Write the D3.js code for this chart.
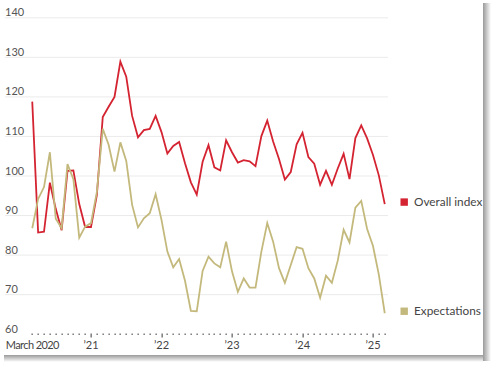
<!DOCTYPE html>
<html><head><meta charset="utf-8">
<script src="https://cdn.jsdelivr.net/npm/d3@7"></script>
<style>
html,body{margin:0;padding:0;background:#fff;}
svg{display:block;}
text{font-family:Lato,"Open Sans",sans-serif;}
</style></head>
<body>
<svg id="c" width="492" height="366"></svg>
<script>
// Months: March 2020 .. March 2025
const overall = [
118.8,85.7,85.9,98.3,91.7,86.3,101.3,101.4,92.9,87.1,
87.1,95.2,114.9,117.5,120.0,128.9,125.1,115.2,109.8,111.6,111.9,115.2,
111.1,105.7,107.6,108.6,103.2,98.4,95.3,103.6,107.8,102.2,101.4,109.0,
106.0,103.4,104.0,103.7,102.5,110.1,114.0,108.7,104.3,99.1,101.0,108.0,
110.9,104.8,103.1,97.8,101.3,97.8,101.9,105.6,99.2,109.6,112.8,109.5,
105.3,100.1,92.9];
const expectations = [
86.8,94.2,97.2,106.0,89.2,86.8,103.0,99.2,84.4,87.2,
88.1,96.0,111.9,107.9,101.1,108.5,103.8,92.7,87.0,89.3,90.6,95.4,
88.9,80.9,76.9,79.0,73.5,65.9,65.8,76.0,79.6,77.9,76.9,83.4,
75.9,70.7,74.1,71.8,71.8,80.9,88.1,83.4,76.7,73.0,77.5,82.0,
81.6,76.7,74.1,69.2,74.8,73.0,78.6,86.4,83.2,92.0,93.7,86.6,
82.3,75.0,65.3];
const yTicks = [60,70,80,90,100,110,120,130,140];
const xTickLabels = ["March 2020","\u201921","\u201922","\u201923","\u201924","\u201925"];
const xTickMonths = [0,10,22,34,46,58];
const seriesNames = ["Overall index","Expectations"];
const colors = ["#d42331","#c4b97c"];

const svg = d3.select("#c");

// frame shadow
const defs = svg.append("defs");
const gR = defs.append("linearGradient").attr("id","gr").attr("x1","0").attr("x2","1").attr("y1","0").attr("y2","0");
gR.append("stop").attr("offset","0").attr("stop-color","#9a9a9a");
gR.append("stop").attr("offset","1").attr("stop-color","#ffffff");
const gB = defs.append("linearGradient").attr("id","gb").attr("x1","0").attr("x2","0").attr("y1","0").attr("y2","1");
gB.append("stop").attr("offset","0").attr("stop-color","#9a9a9a");
gB.append("stop").attr("offset","1").attr("stop-color","#ffffff");
svg.append("rect").attr("x",483).attr("y",3).attr("width",8).attr("height",358).attr("fill","url(#gr)");
svg.append("rect").attr("x",4).attr("y",355).attr("width",479).attr("height",7).attr("fill","url(#gb)");

const x = d3.scaleLinear().domain([0,60]).range([32.25,384.75]);
const y = d3.scaleLinear().domain([60,140]).range([334.2,17.8]);

// gridlines
const grid = svg.append("g");
yTicks.filter(t=>t>60).forEach(t=>{
  grid.append("line").attr("x1",5).attr("x2",388).attr("y1",y(t)).attr("y2",y(t))
    .attr("stroke","#ebebeb").attr("stroke-width",1);
});
// y labels
yTicks.forEach(t=>{
  svg.append("text").attr("x",5).attr("y",y(t)-1.5).text(t)
    .attr("font-size",11).attr("fill","#555");
});

// x axis dots
const months = d3.range(0,61);
svg.append("g").selectAll("rect").data(months).join("rect")
  .attr("x",d=>Math.round(x(d))-0.5).attr("y",333.5)
  .attr("width",1.3)
  .attr("height",d=>xTickMonths.includes(d)&&d>0?4:1.5)
  .attr("fill","#666");
svg.append("g").selectAll("text").data(xTickMonths).join("text")
  .attr("x",d=>x(d)).attr("y",349).attr("text-anchor","middle")
  .attr("font-size",11).attr("fill","#444")
  .attr("letter-spacing",d=>d===0?"-0.6":"0")
  .text((d,i)=>xTickLabels[i]);

const line = d3.line().x((d,i)=>x(i)).y(d=>y(d));
[overall, expectations].forEach((s,k)=>{
  svg.append("path").datum(s).attr("d",line).attr("fill","none")
    .attr("stroke",colors[k]).attr("stroke-width",1.8).attr("stroke-linejoin","miter");
});

// legend
[overall, expectations].forEach((s,k)=>{
  const ly = y(s[s.length-1]) - 2;
  svg.append("rect").attr("x",400.5).attr("y",ly-3.7).attr("width",7.4).attr("height",7.4).attr("fill",colors[k]);
  svg.append("text").attr("x",414).attr("y",ly).attr("dy","0.35em")
    .attr("font-size",11.8).attr("fill","#444").text(seriesNames[k]);
});
</script>
</body></html>
